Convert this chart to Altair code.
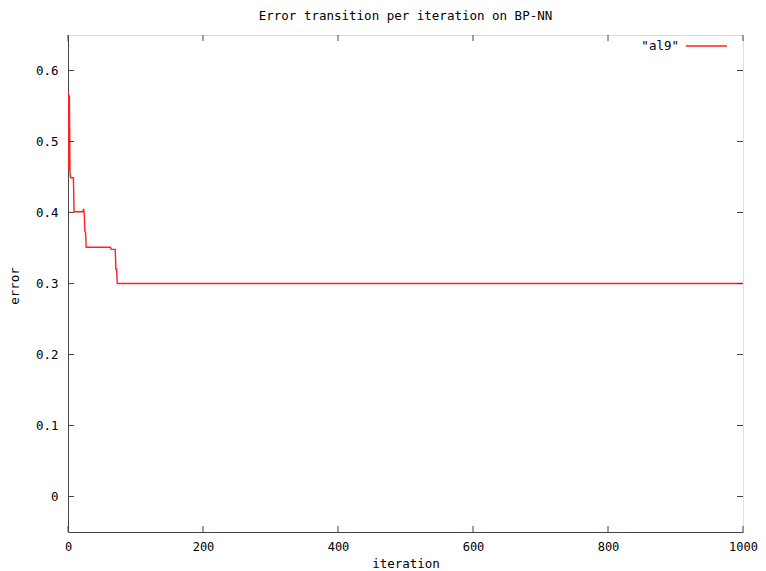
import altair as alt
import pandas as pd

# data
iteration = [0, 1, 2, 3, 4, 8, 9, 22, 23, 24, 25, 26, 27, 63, 64, 70, 71, 72, 73, 1000]
error = [0.57, 0.46, 0.565, 0.455, 0.449, 0.449, 0.401, 0.401, 0.405, 0.400, 0.374,
         0.372, 0.351, 0.351, 0.348, 0.348, 0.320, 0.320, 0.300, 0.300]
x_ticks = [0, 200, 400, 600, 800, 1000]
y_ticks = [0, 0.1, 0.2, 0.3, 0.4, 0.5, 0.6]
series_name = '"al9"'

W, H = 675, 497
FONT = "DejaVu Sans Mono"
FS = 12.5
FRAME = "#444444"
RED = "#ff2020"

df = pd.DataFrame({"iteration": iteration, "error": error})
xt = pd.DataFrame({"iteration": x_ticks})
yt = pd.DataFrame({"error": y_ticks})

xs = alt.Scale(domain=[0, 1000], nice=False, zero=False)
ys = alt.Scale(domain=[-0.05, 0.65], nice=False, zero=False)

xaxis = alt.Axis(title="iteration", values=x_ticks, ticks=False, tickSize=0,
                 domain=True, domainColor=FRAME, grid=False, labelPadding=9, labelFont=FONT,
                 labelFontSize=12, labelColor="black", labelFlush=False,
                 titleFont=FONT,
                 titleFontSize=FS, titleFontWeight="normal", titleColor="black",
                 titleY=31, titleBaseline="middle", format="d")
yaxis = alt.Axis(title="error", values=y_ticks, ticks=False, tickSize=0,
                 domain=True, domainColor=FRAME, grid=False, labelPadding=10, labelFont=FONT,
                 labelFontSize=FS, labelColor="black", labelFlush=False, titleFont=FONT,
                 titleFontSize=FS, titleFontWeight="normal", titleColor="black",
                 titleX=-54, titleY=H / 2 + 2, titleAngle=270, titleBaseline="middle",
                 labelExpr="datum.value == 0 ? '0' : format(datum.value, '.1f')")

X = alt.X("iteration:Q", scale=xs, axis=xaxis)
Y = alt.Y("error:Q", scale=ys, axis=yaxis)

line = alt.Chart(df).mark_line(color=RED, strokeWidth=1.4, clip=True).encode(x=X, y=Y)

tk = dict(color=FRAME, strokeWidth=1)
bottom_t = alt.Chart(xt).mark_rule(**tk).encode(x=X, y=alt.value(H), y2=alt.value(H - 6))
top_t = alt.Chart(xt).mark_rule(**tk).encode(x=X, y=alt.value(0), y2=alt.value(6))
left_t = alt.Chart(yt).mark_rule(**tk).encode(y=Y, x=alt.value(0), x2=alt.value(6))
right_t = alt.Chart(yt).mark_rule(**tk).encode(y=Y, x=alt.value(W), x2=alt.value(W - 6))

leg = pd.DataFrame({"name": [series_name]})
leg_text = alt.Chart(leg).mark_text(font=FONT, fontSize=FS, align="right",
                                    baseline="middle", color="black").encode(
    text="name:N", x=alt.value(611), y=alt.value(11))
leg_line = alt.Chart(leg).mark_rule(color=RED, strokeWidth=1.4).encode(
    x=alt.value(618), x2=alt.value(659), y=alt.value(11))

chart = alt.layer(line, bottom_t, top_t, left_t, right_t, leg_text, leg_line).properties(
    width=W, height=H,
    title=alt.TitleParams("Error transition per iteration on BP-NN", font=FONT,
                          fontSize=FS, fontWeight="normal", color="black",
                          anchor="middle", offset=12),
    autosize=alt.AutoSizeParams(type="none"),
    padding={"left": 60, "top": 27, "right": 15, "bottom": 42},
).configure_view(stroke=FRAME, strokeWidth=1).configure(background="white")

chart.save("out.html", embed_options={"renderer": "svg", "actions": False})
